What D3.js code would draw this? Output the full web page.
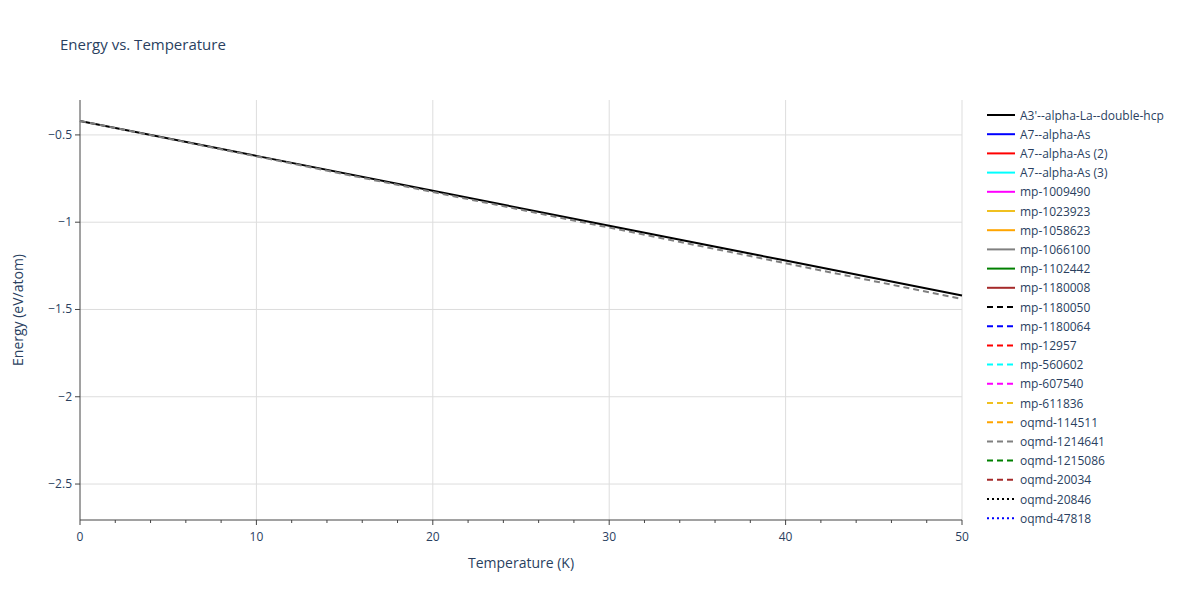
<!DOCTYPE html><html><head><meta charset="utf-8"><script src="https://d3js.org/d3.v7.min.js"></script>
<style>body{margin:0;background:#fff}text{font-family:"Open Sans",Arial,sans-serif;fill:#2a3f5f}</style></head><body>
<svg id="c" width="1200" height="600"></svg>
<script>
const temps=[0,10,20,30,40,50];
const seriesNames=["A3'--alpha-La--double-hcp","A7--alpha-As","A7--alpha-As (2)","A7--alpha-As (3)","mp-1009490","mp-1023923","mp-1058623","mp-1066100","mp-1102442","mp-1180008","mp-1180050","mp-1180064","mp-12957","mp-560602","mp-607540","mp-611836","oqmd-114511","oqmd-1214641","oqmd-1215086","oqmd-20034","oqmd-20846","oqmd-47818"];
const seriesColors=["#000","#00f","#f00","#0ff","#f0f","#f0c020","#ffa500","#808080","#008000","#a52a2a","#000","#00f","#f00","#0ff","#f0f","#f0c020","#ffa500","#808080","#008000","#a52a2a","#000","#00f"];
const seriesDash=["","","","","","","","","","","6,4","6,4","6,4","6,4","6,4","6,4","6,4","6,4","6,4","6,4","2,3","2,3"];
const energyBlack=[-0.42,-0.62,-0.82,-1.02,-1.22,-1.42];
const energyGray=[-0.42,-0.623,-0.827,-1.031,-1.235,-1.44];
const xTicks=[0,10,20,30,40,50];
const yTicks=[-0.5,-1,-1.5,-2,-2.5];
const svg=d3.select("#c");
const L=80,R=962,T=100,B=520;
const x=d3.scaleLinear().domain([0,50]).range([L,R]);
const y=d3.scaleLinear().domain([-2.706,-0.3]).range([B,T]);
const g=svg.append("g");
xTicks.forEach(t=>{if(t>0)g.append("line").attr("x1",x(t)).attr("x2",x(t)).attr("y1",T).attr("y2",B).attr("stroke","#ddd")});
yTicks.forEach(t=>g.append("line").attr("x1",L).attr("x2",R).attr("y1",y(t)).attr("y2",y(t)).attr("stroke","#ddd"));
g.append("line").attr("x1",L).attr("x2",L).attr("y1",T).attr("y2",B).attr("stroke","#444");
g.append("line").attr("x1",L).attr("x2",R).attr("y1",B).attr("y2",B).attr("stroke","#444");
d3.range(0,51,2).forEach(t=>g.append("line").attr("x1",x(t)).attr("x2",x(t)).attr("y1",B).attr("y2",B+(t%10===0?5:3)).attr("stroke","#444"));
yTicks.forEach(t=>g.append("line").attr("x1",L-5).attr("x2",L).attr("y1",y(t)).attr("y2",y(t)).attr("stroke","#444"));
const fmt=v=>String(v).replace("-","−");
xTicks.forEach(t=>g.append("text").attr("x",x(t)).attr("y",B+21).attr("text-anchor","middle").attr("font-size",12).text(t));
yTicks.forEach(t=>g.append("text").attr("x",L-8).attr("y",y(t)+4).attr("text-anchor","end").attr("font-size",12).text(fmt(t)));
svg.append("text").attr("x",x(25)).attr("y",568).attr("text-anchor","middle").attr("font-size",14).text("Temperature (K)");
svg.append("text").attr("transform",`translate(23,${(T+B)/2}) rotate(-90)`).attr("text-anchor","middle").attr("font-size",14).text("Energy (eV/atom)");
svg.append("text").attr("x",60).attr("y",50).attr("font-size",15).text("Energy vs. Temperature");
const line=d3.line().x((d,i)=>x(temps[i])).y(d=>y(d));
g.append("path").attr("d",line(energyBlack)).attr("fill","none").attr("stroke","#000").attr("stroke-width",2);
g.append("path").attr("d",line(energyGray)).attr("fill","none").attr("stroke","#808080").attr("stroke-width",2).attr("stroke-dasharray","6,4");
seriesNames.forEach((n,i)=>{const yy=115+i*19.2;
svg.append("line").attr("x1",987).attr("x2",1015).attr("y1",yy).attr("y2",yy).attr("stroke",seriesColors[i]).attr("stroke-width",2).attr("stroke-dasharray",seriesDash[i]||null);
svg.append("text").attr("x",1020).attr("y",yy+4.5).attr("font-size",12).text(n);});
</script></body></html>
